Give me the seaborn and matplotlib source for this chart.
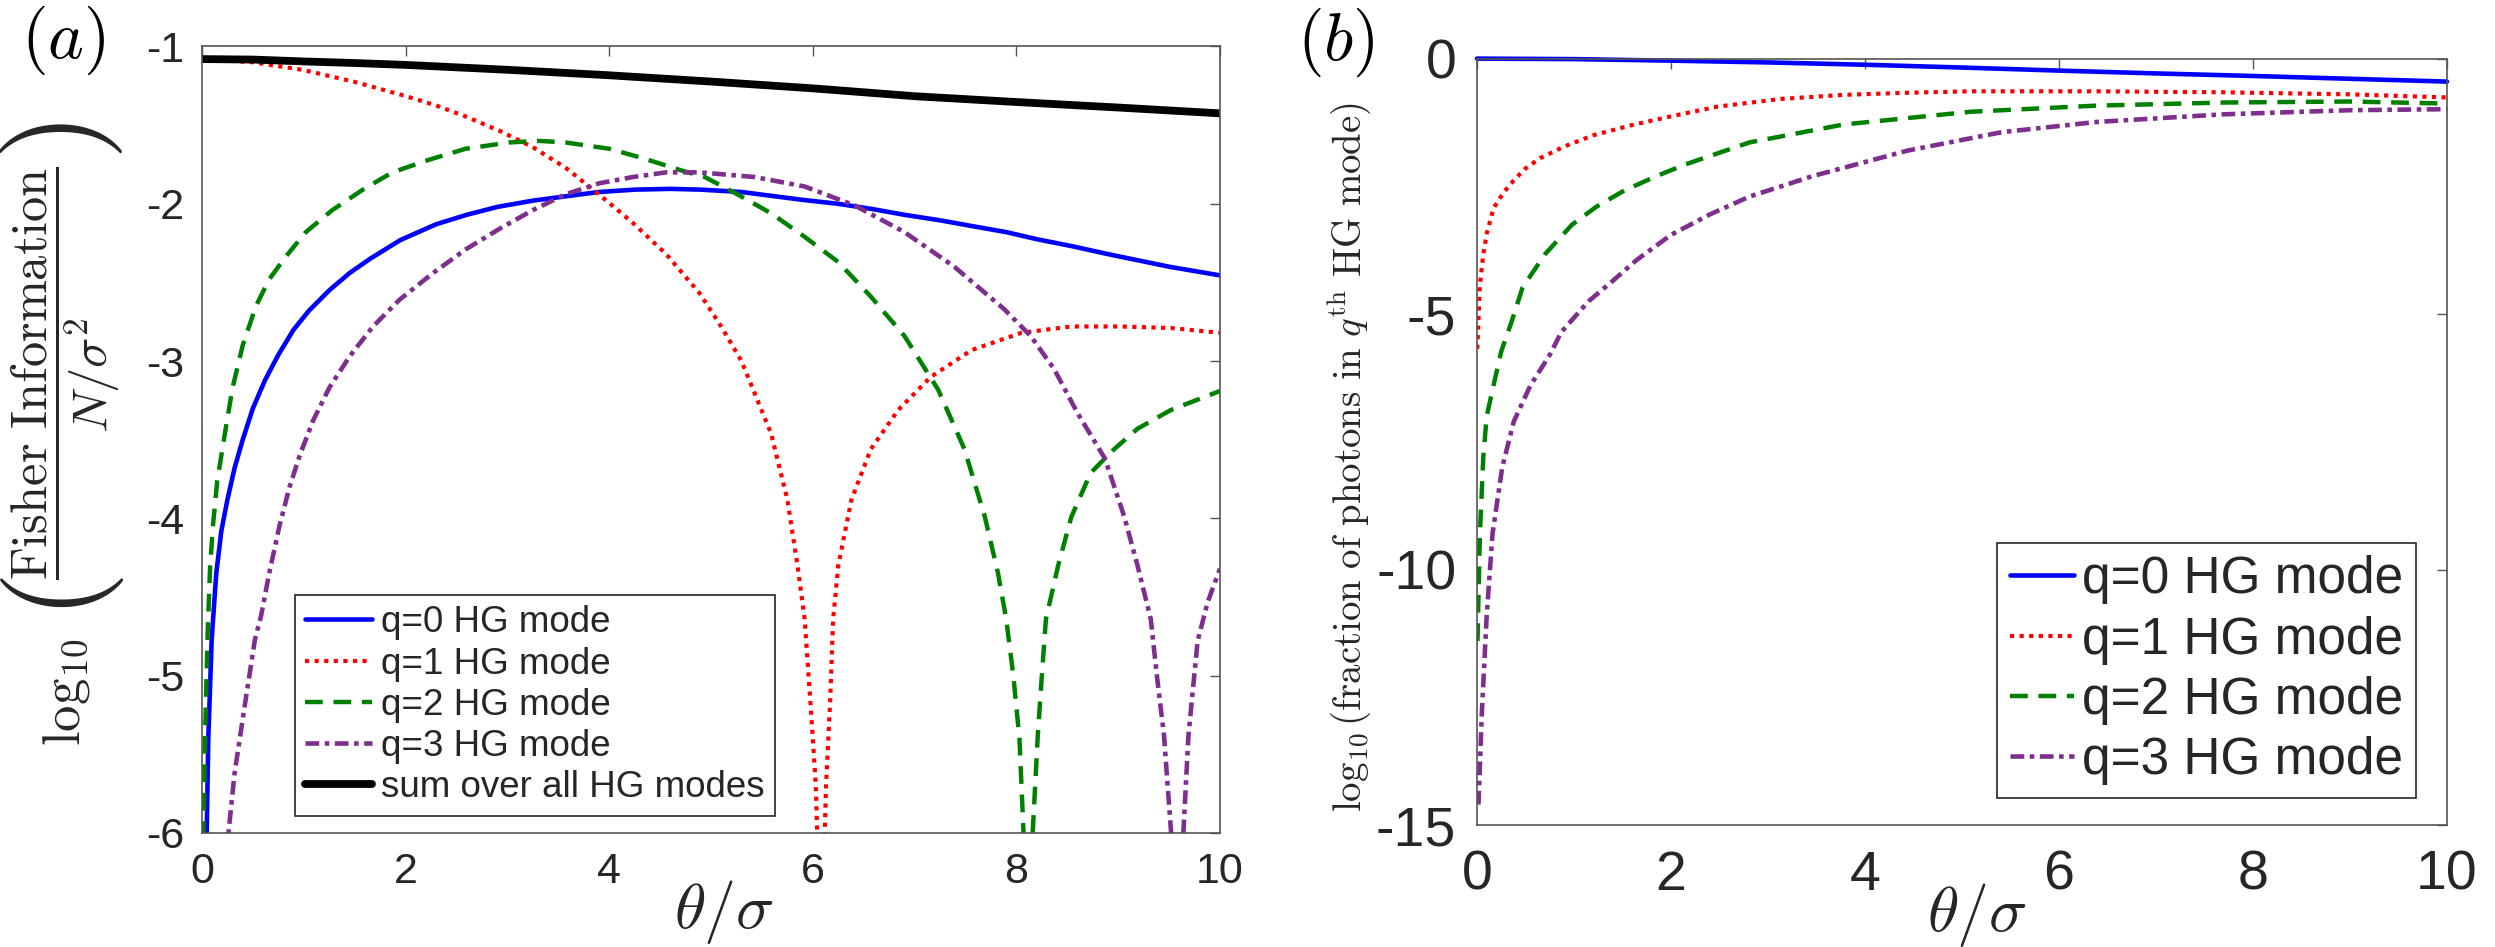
import numpy as np
import pandas as pd
import matplotlib
matplotlib.use("Agg")
import matplotlib.pyplot as plt
import seaborn as sns

# ---------------- data ----------------
# Panel (a): log10(Fisher information / (N/sigma^2))
a_q0_x = [0.035, 0.046, 0.062, 0.095, 0.14, 0.19, 0.25, 0.32, 0.40, 0.50, 0.62, 0.75, 0.90, 1.05,
          1.25, 1.45, 1.65, 1.95, 2.3, 2.6, 2.9, 3.25, 3.6, 3.9, 4.25, 4.6, 4.9, 5.3, 5.6, 5.9,
          6.25, 6.6, 6.9, 7.25, 7.55, 7.9, 8.2, 8.55, 8.9, 9.2, 9.5, 10.0]
a_q0_y = [-6.4, -6.0, -5.40, -4.77, -4.35, -4.08, -3.88, -3.68, -3.50, -3.30, -3.12, -2.96, -2.80, -2.68,
          -2.55, -2.44, -2.35, -2.23, -2.13, -2.07, -2.02, -1.98, -1.95, -1.925, -1.91, -1.905, -1.91, -1.925, -1.95, -1.975,
          -2.00, -2.035, -2.07, -2.105, -2.14, -2.18, -2.225, -2.27, -2.32, -2.36, -2.40, -2.455]

a_q1_x = [0.0, 0.5, 1.0, 1.5, 2.0, 2.3, 2.59, 2.92, 3.25, 3.57, 3.90, 4.23, 4.56, 4.89, 5.1, 5.3,
          5.59, 5.75, 5.85, 5.92, 5.98, 6.03, 6.06, 6.10, 6.13, 6.17, 6.20, 6.25, 6.38, 6.57, 6.84,
          7.16, 7.56, 8.05, 8.54, 9.03, 9.52, 10.0]
a_q1_y = [-1.08, -1.10, -1.15, -1.225, -1.315, -1.375, -1.445, -1.535, -1.64, -1.77, -1.94, -2.12, -2.32, -2.57, -2.78, -3.0,
          -3.46, -3.88, -4.30, -4.64, -5.2, -5.7, -6.4, -6.4, -5.7, -5.17, -4.64, -4.30, -3.88, -3.56, -3.31,
          -3.10, -2.93, -2.82, -2.78, -2.78, -2.79, -2.82]

a_q2_x = [0.005, 0.013, 0.03, 0.056, 0.08, 0.11, 0.15, 0.22, 0.30, 0.40, 0.53, 0.66, 0.83, 1.02, 1.28,
          1.58, 1.87, 2.23, 2.59, 3.02, 3.31, 3.57, 4.0, 4.33, 4.72, 4.94, 5.26, 5.59, 5.92, 6.25,
          6.57, 6.90, 7.23, 7.49, 7.69, 7.82, 7.90, 7.97, 8.03, 8.07, 8.10, 8.13, 8.16, 8.21, 8.25,
          8.29, 8.41, 8.54, 8.73, 8.96, 9.19, 9.52, 10.0]
a_q2_y = [-6.4, -6.0, -5.40, -4.72, -4.30, -4.03, -3.76, -3.48, -3.17, -2.90, -2.65, -2.48, -2.33, -2.18, -2.04,
          -1.91, -1.80, -1.72, -1.65, -1.61, -1.60, -1.61, -1.65, -1.71, -1.79, -1.83, -1.94, -2.06, -2.21, -2.37,
          -2.59, -2.84, -3.18, -3.56, -3.99, -4.35, -4.64, -5.0, -5.4, -6.0, -6.5, -6.5, -6.0, -5.38, -5.0,
          -4.64, -4.30, -3.99, -3.71, -3.56, -3.43, -3.31, -3.19]

a_q3_x = [0.22, 0.26, 0.32, 0.42, 0.52, 0.58, 0.66, 0.76, 0.86, 0.96, 1.09, 1.25, 1.45, 1.68, 1.94,
          2.27, 2.59, 2.92, 3.25, 3.57, 3.90, 4.23, 4.56, 4.89, 5.43, 5.92, 6.41, 6.90, 7.39, 7.88,
          8.14, 8.37, 8.60, 8.87, 9.06, 9.19, 9.32, 9.38, 9.45, 9.52, 9.55, 9.61, 9.64, 9.69, 9.78,
          9.88, 10.0]
a_q3_y = [-6.5, -6.0, -5.62, -5.19, -4.77, -4.62, -4.35, -4.05, -3.80, -3.60, -3.38, -3.17, -2.97, -2.78, -2.61,
          -2.44, -2.29, -2.16, -2.04, -1.94, -1.87, -1.83, -1.80, -1.80, -1.83, -1.89, -2.01, -2.18, -2.40, -2.67,
          -2.84, -3.05, -3.33, -3.62, -3.99, -4.30, -4.64, -5.0, -5.38, -6.0, -6.5, -6.5, -6.0, -5.38, -4.78,
          -4.53, -4.32]

a_sum_x = [0.0, 0.5, 1.0, 1.5, 2.0, 3.0, 4.0, 5.0, 6.0, 7.0, 8.0, 9.0, 10.0]
a_sum_y = [-1.08, -1.083, -1.095, -1.105, -1.117, -1.148, -1.183, -1.223, -1.266, -1.316, -1.353, -1.388, -1.425]

# Panel (b): log10(fraction of photons in q-th HG mode)
b_q0_x = [0.0, 1.0, 2.0, 3.0, 4.0, 5.0, 6.0, 7.0, 8.0, 9.0, 10.0]
b_q0_y = [0.0, -0.01, -0.04, -0.075, -0.12, -0.175, -0.235, -0.29, -0.34, -0.395, -0.45]

b_q1_x = [0.003, 0.03, 0.065, 0.10, 0.17, 0.27, 0.38, 0.5, 0.65, 0.9, 1.2, 1.6, 2.0, 2.48, 3.13,
          3.78, 4.4, 5.09, 6.39, 7.70, 9.0, 10.0]
b_q1_y = [-5.68, -4.43, -3.83, -3.43, -2.93, -2.63, -2.38, -2.15, -1.95, -1.72, -1.50, -1.30, -1.13, -0.94, -0.79,
          -0.71, -0.67, -0.64, -0.64, -0.66, -0.70, -0.76]

b_q2_x = [0.005, 0.03, 0.065, 0.10, 0.17, 0.25, 0.36, 0.47, 0.70, 0.98, 1.23, 1.52, 1.85, 2.15, 2.81,
          3.78, 5.09, 6.39, 7.70, 9.0, 10.0]
b_q2_y = [-11.4, -9.3, -7.8, -7.0, -6.4, -5.73, -5.13, -4.48, -3.83, -3.25, -2.90, -2.58, -2.30, -2.07, -1.64,
          -1.29, -1.04, -0.92, -0.86, -0.84, -0.88]

b_q3_x = [0.015, 0.05, 0.1, 0.16, 0.26, 0.38, 0.55, 0.75, 0.87, 1.15, 1.4, 1.64, 2.0, 2.4, 2.81,
          3.46, 4.44, 5.41, 6.39, 7.70, 9.0, 10.0]
b_q3_y = [-14.6, -12.8, -10.9, -9.3, -8.0, -7.1, -6.4, -5.8, -5.35, -4.75, -4.35, -3.95, -3.45, -3.05, -2.7,
          -2.3, -1.8, -1.44, -1.24, -1.09, -1.01, -0.99]

labels_a = ["q=0 HG mode", "q=1 HG mode", "q=2 HG mode", "q=3 HG mode", "sum over all HG modes"]
labels_b = ["q=0 HG mode", "q=1 HG mode", "q=2 HG mode", "q=3 HG mode"]
xticks = [0, 2, 4, 6, 8, 10]
yticks_a = [-6, -5, -4, -3, -2, -1]
yticks_b = [-15, -10, -5, 0]

# ---------------- style ----------------
sns.set_theme(style="white")
plt.rcParams["font.family"] = ["Liberation Sans", "DejaVu Sans"]
plt.rcParams["mathtext.fontset"] = "cm"
plt.rcParams["axes.unicode_minus"] = False

C_BLUE = "#0000ff"
C_RED = "#ff0000"
C_GREEN = "#008000"
C_PURPLE = "#7e2f8e"
AX_COL = "#555555"
TXT_COL = "#262626"

W, H = 2495, 947
fig = plt.figure(figsize=(W / 100, H / 100), dpi=100)
fig.patch.set_facecolor("white")

ax1 = fig.add_axes([202 / W, 1 - 833 / H, (1220 - 202) / W, (833 - 46.5) / H])
ax2 = fig.add_axes([1477 / W, 1 - 825 / H, (2447 - 1477) / W, (825 - 58.6) / H])

def draw(ax, x, y, color, lw, dashes, label, clip=True):
    sns.lineplot(x=x, y=y, ax=ax, color=color, linewidth=lw, label=label,
                 sort=False, estimator=None, legend=False)
    ln = ax.lines[-1]
    if dashes is not None:
        ln.set_dashes(dashes)
        ln.set_dash_capstyle("butt")
    ln.set_clip_on(clip)
    return ln

DOT = (1.0, 1.3)
DASH = (4.0, 2.4)
DASHDOT = (3.0, 1.2, 1.0, 1.2)

h1 = [
    draw(ax1, a_q0_x, a_q0_y, C_BLUE, 3.3, None, labels_a[0]),
    draw(ax1, a_q1_x, a_q1_y, C_RED, 3.0, DOT, labels_a[1]),
    draw(ax1, a_q2_x, a_q2_y, C_GREEN, 3.2, DASH, labels_a[2]),
    draw(ax1, a_q3_x, a_q3_y, C_PURPLE, 3.3, DASHDOT, labels_a[3]),
    draw(ax1, a_sum_x, a_sum_y, "black", 5.6, None, labels_a[4]),
]
h2 = [
    draw(ax2, b_q0_x, b_q0_y, C_BLUE, 3.3, None, labels_b[0], clip=False),
    draw(ax2, b_q1_x, b_q1_y, C_RED, 3.0, DOT, labels_b[1]),
    draw(ax2, b_q2_x, b_q2_y, C_GREEN, 3.2, DASH, labels_b[2]),
    draw(ax2, b_q3_x, b_q3_y, C_PURPLE, 3.3, DASHDOT, labels_b[3]),
]

for ax, yt, yl, fs, padx, pady in [(ax1, yticks_a, (-6, -1), 31, 14, 13),
                                    (ax2, yticks_b, (-15, 0), 40, 18, 15)]:
    ax.set_xlim(0, 10)
    ax.set_ylim(*yl)
    ax.set_xticks(xticks)
    ax.set_yticks(yt)
    ax.set_xticklabels([str(v) for v in xticks])
    ax.set_yticklabels([str(v) for v in yt])
    ax.set_xlabel("")
    ax.set_ylabel("")
    ax.tick_params(axis="both", which="both", direction="in", top=True, right=True,
                   length=7, width=1.0, color=AX_COL, labelcolor=TXT_COL, labelsize=fs)
    ax.tick_params(axis="x", pad=padx)
    ax.tick_params(axis="y", pad=pady)
    for s in ax.spines.values():
        s.set_color(AX_COL)
        s.set_linewidth(1.2)
        s.set_visible(True)
    ax.set_facecolor("white")
    ax.grid(False)

leg1 = ax1.legend(h1, labels_a, loc="upper left", bbox_to_anchor=(295 / W, 1 - 595 / H),
                  bbox_transform=fig.transFigure, borderaxespad=0, fontsize=26.5,
                  handlelength=1.8, handletextpad=0.25, labelspacing=0.17, borderpad=0.28,
                  fancybox=False, framealpha=1, edgecolor=TXT_COL)
leg1.get_frame().set_linewidth(1.2)
leg2 = ax2.legend(h2, labels_b, loc="upper left", bbox_to_anchor=(1997 / W, 1 - 542.5 / H),
                  bbox_transform=fig.transFigure, borderaxespad=0, fontsize=37,
                  handlelength=1.25, handletextpad=0.16, labelspacing=0.22, borderpad=0.25,
                  fancybox=False, framealpha=1, edgecolor=TXT_COL)
leg2.get_frame().set_linewidth(1.2)

# panel labels and axis labels
fig.text(63 / W, 1 - 40 / H, r"$(a)$", fontsize=49, ha="center", va="center", color="black")
fig.text(1336 / W, 1 - 42 / H, r"$(b)$", fontsize=49, ha="center", va="center", color="black")
fig.text(724 / W, 1 - 912 / H, r"$\theta/\sigma$", fontsize=46, ha="center", va="center")
fig.text(1977 / W, 1 - 915 / H, r"$\theta/\sigma$", fontsize=46, ha="center", va="center")

# y label of panel (a), assembled from pieces: log10 ( fraction )
t_log = fig.text(66 / W, 1 - 692 / H, r"$\log_{10}$", fontsize=38, rotation=90,
                 ha="center", va="center")
t_lp = fig.text(62 / W, 1 - 598 / H, r"$($", fontsize=88, rotation=90, ha="center", va="center")
t_fr = fig.text(65 / W, 1 - 373 / H, r"$\dfrac{\mathrm{Fisher\ Information}}{N/\sigma^2}$",
                fontsize=36.5, rotation=90, ha="center", va="center")
t_rp = fig.text(62 / W, 1 - 141 / H, r"$)$", fontsize=88, rotation=90, ha="center", va="center")

# fit the fraction length to the reference span (166..580 px from top)
fig.canvas.draw()
r = fig.canvas.get_renderer()
ext = t_fr.get_window_extent(r)
t_fr.set_fontsize(36.5 * 414.0 / ext.height)

fig.text(1349 / W, 1 - 457 / H,
         r"$\log_{10}(\mathrm{fraction\ of\ photons\ in\ }q^{\mathrm{th}}\mathrm{\ HG\ mode})$",
         fontsize=28, rotation=90, ha="center", va="center")

fig.savefig("out.png", dpi=100, facecolor="white")
